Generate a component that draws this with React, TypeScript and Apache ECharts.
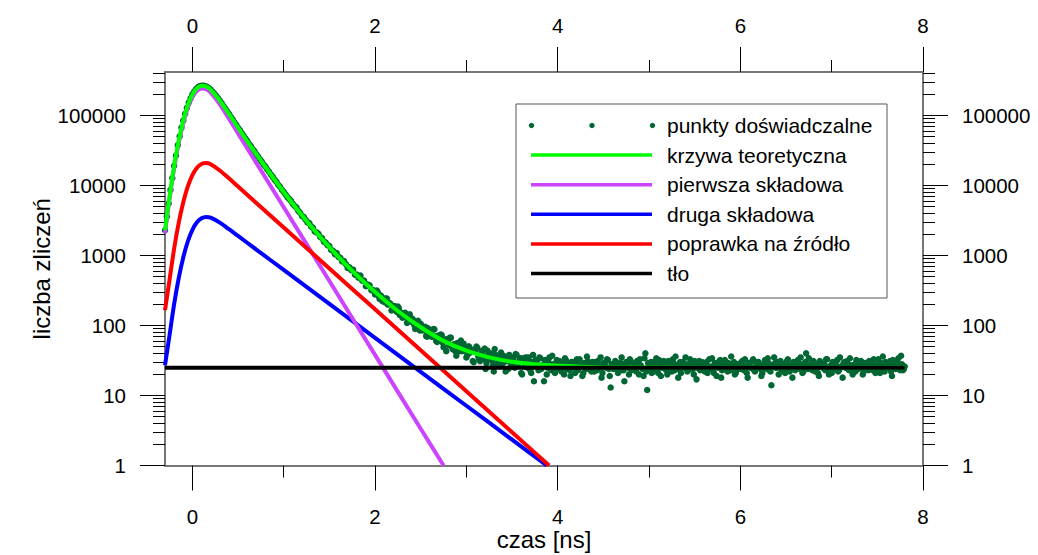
import React, { useEffect, useRef } from "react";
import * as echarts from "echarts";

const FONT = '"Liberation Sans", Arial, sans-serif';

// ---- measured histogram, channels at timeStart + i*timeStep ----
const timeStart = -0.3;
const timeStep = 0.02;
const measuredCounts = [
  // -0.30 .. -0.02
  2290, 3610, 5540, 8650, 12810, 19150, 26800, 37700, 50450, 67100, 84800, 106000, 128500, 152800, 175800,
  // 0.00 .. 0.98
  199900, 219800, 238700, 252000, 262300, 266200, 266500, 261900, 257400, 246800,
  235400, 219900, 206000, 190600, 177400, 163300, 150400, 136700, 125900, 114500,
  105500, 95900, 88200, 80100, 73800, 66850, 61700, 56000, 51700, 47000,
  43450, 39450, 36450, 33150, 30650, 27780, 25820, 23590, 21920, 19890,
  18610, 16900, 15710, 14310, 13290, 12120, 11280, 10230, 9580, 8690,
  // 1.00 .. 3.98
  8110, 7503, 6820, 6434, 6025, 5466, 5086, 4833, 4331, 4086,
  3684, 3537, 3246, 2972, 2910, 2605, 2480, 2204, 2139, 2044,
  1838, 1768, 1576, 1526, 1402, 1368, 1202, 1170, 1047, 1084,
  950, 925, 823, 834, 753, 665, 678, 617, 627, 531,
  533, 482, 517, 437, 437, 364, 384, 375, 320, 320,
  278, 316, 263, 269, 223, 239, 242, 199, 209, 164,
  187, 187, 156, 177, 149, 129, 148, 134, 116, 145,
  113, 118, 89, 112, 96, 106, 85, 92, 71, 91,
  81, 69, 89, 70, 58, 72, 74, 57, 62, 43,
  62, 67, 51, 54, 43, 56, 43, 61, 44, 48,
  35, 50, 41, 45, 30, 43, 48, 33, 38, 33,
  47, 29, 37, 40, 32, 22, 38, 34, 27, 41,
  29, 36, 31, 24, 36, 32, 26, 39, 28, 32,
  21, 34, 26, 30, 35, 23, 30, 16, 32, 27,
  35, 24, 27, 32, 20, 30, 25, 37, 23, 28,
  // 4.00 .. 7.80
  26, 31, 22, 28, 34, 24, 27, 19, 30, 25,
  29, 23, 33, 26, 21, 28, 36, 24, 27, 30,
  22, 26, 31, 25, 18, 29, 27, 33, 24, 13,
  28, 25, 30, 21, 27, 35, 23, 26, 29, 20,
  31, 24, 27, 22, 29, 33, 25, 19, 40, 12,
  26, 30, 23, 27, 34, 21, 28, 25, 31, 24,
  20, 29, 26, 33, 23, 27, 18, 30, 25, 28,
  35, 22, 26, 29, 24, 31, 17, 27, 23, 30,
  25, 28, 21, 33, 26, 24, 29, 19, 27, 32,
  23, 26, 30, 22, 28, 36, 25, 20, 27, 24,
  29, 31, 23, 26, 18, 28, 25, 33, 22, 27,
  30, 24, 21, 28, 26, 34, 23, 14, 27, 29,
  25, 20, 31, 27, 24, 28, 33, 22, 26, 30,
  23, 29, 25, 35, 21, 27, 40, 24, 28, 26,
  31, 22, 27, 19, 30, 25, 28, 33, 24, 26,
  21, 29, 27, 32, 23, 26, 18, 30, 25, 28,
  34, 24, 27, 22, 29, 26, 31, 20, 28, 25,
  23, 30, 26, 33, 21, 27, 24, 29, 36, 22,
  28, 25, 31, 19, 27, 24, 30, 26, 37, 23,
  26,
];

// ---- in-between channels, at midStart + i*timeStep ----
const midStart = 2.01;
const measuredCountsMid = [
  // 2.01 .. 2.49
  285, 298, 240, 262, 242, 214, 243, 203, 203, 169, 190, 161, 186, 142, 152, 141, 152, 109, 131, 114, 125, 101, 107, 117, 85,
  // 2.51 .. 2.99
  100, 87, 96, 69, 84, 77, 69, 88, 60, 71, 63, 73, 49, 63, 64, 52, 67, 46, 53, 37, 56, 50, 43, 55, 44,
  // 3.01 .. 3.49
  38, 50, 44, 31, 44, 50, 36, 31, 43, 37, 24, 44, 33, 39, 27, 46, 30, 35, 27, 38, 32, 22, 36, 38, 28,
  // 3.51 .. 3.99
  33, 25, 38, 28, 34, 20, 30, 35, 25, 31, 21, 38, 27, 31, 23, 34, 27, 16, 32, 25, 35, 23, 28, 21, 32,
  // 4.01 .. 7.79
  24, 29, 27, 20, 32, 26, 23, 30, 28, 21,
  33, 25, 27, 19, 29, 24, 31, 26, 22, 28,
  30, 23, 26, 35, 21, 27, 25, 32, 19, 28,
  24, 31, 26, 22, 29, 27, 16, 30, 25, 33,
  23, 28, 26, 31, 20, 27, 24, 34, 22, 29,
  25, 21, 30, 27, 24, 32, 19, 28, 26, 23,
  31, 26, 22, 29, 36, 24, 27, 21, 30, 25,
  28, 23, 33, 26, 20, 29, 25, 31, 24, 27,
  22, 30, 26, 24, 34, 21, 28, 25, 31, 18,
  27, 32, 24, 29, 23, 26, 30, 21, 28, 25,
  24, 27, 33, 21, 29, 25, 31, 23, 26, 30,
  28, 19, 26, 32, 24, 29, 22, 27, 35, 25,
  30, 26, 23, 28, 21, 31, 25, 27, 18, 29,
  26, 32, 24, 28, 22, 30, 25, 34, 27, 23,
  29, 25, 21, 31, 26, 28, 23, 33, 20, 27,
  30, 24, 27, 22, 35, 26, 29, 25, 31, 23,
  27, 20, 28, 32, 24, 26, 30, 22, 29, 25,
  31, 26, 23, 28, 25, 33, 21, 27, 24, 30,
  26, 29, 22, 32, 25, 27, 34, 23, 28, 24,
];

// ---- fitted curve (krzywa teoretyczna) ----
const fitTime = [-0.3, -0.25, -0.2, -0.15, -0.1, -0.05, 0, 0.05, 0.1, 0.15, 0.2, 0.3, 0.4, 0.5, 0.7, 1.0, 1.25, 1.5, 1.75, 2.0, 2.25, 2.5, 2.75, 3.0, 3.25, 3.5, 3.75, 4.0, 4.5, 5.0, 6.0, 7.0, 7.8];
const fitTotal = [2297, 6970, 19017, 43732, 85057, 140606, 199638, 246134, 266951, 261101, 234872, 163561, 105262, 67177, 27917, 8057, 3116, 1313, 603, 300, 161, 94.4, 60.3, 43.8, 35.0, 30.3, 27.9, 26.6, 25.2, 25.05, 25, 25, 25];

// ---- first component (pierwsza składowa) ----
const firstTime = [-0.3, -0.25, -0.2, -0.15, -0.1, -0.05, 0, 0.05, 0.1, 0.15, 0.2, 0.3, 0.4, 0.5, 0.7, 1.0, 1.5, 2.0, 2.5, 2.75];
const firstValues = [2080, 6420, 17540, 40320, 78340, 129300, 183200, 225200, 243200, 236600, 211300, 144200, 90210, 55590, 21040, 4898, 431.5, 38.0, 3.35, 1];

// ---- second component (druga składowa) ----
const secondTime = [-0.3, -0.25, -0.2, -0.15, -0.1, -0.05, 0, 0.05, 0.1, 0.15, 0.2, 0.3, 0.4, 0.5, 0.7, 1.0, 1.5, 2.0, 2.5, 3.0, 3.5, 3.88];
const secondValues = [27, 73, 202, 473, 938, 1587, 2323, 2979, 3406, 3556, 3467, 2946, 2377, 1901, 1216, 622, 204, 66.7, 21.8, 7.14, 2.34, 1];

// ---- source correction (poprawka na źródło) ----
const sourceTime = [-0.3, -0.25, -0.2, -0.15, -0.1, -0.05, 0, 0.05, 0.1, 0.15, 0.2, 0.3, 0.4, 0.5, 0.7, 1.0, 1.5, 2.0, 2.5, 3.0, 3.5, 3.906];
const sourceValues = [165, 452, 1250, 2914, 5754, 9694, 14090, 17930, 20320, 20920, 20080, 16390, 12650, 9661, 5636, 2512, 653, 170, 44.2, 11.5, 2.99, 1];

// ---- background (tło) ----
const bgTime = [-0.3, 7.8];
const bgValues = [25, 25];

// ---- axes ----
const xMajorTicks = [0, 2, 4, 6, 8];
const xMinorTicks = [1, 3, 5, 7];
const yMajorTicks = [1, 10, 100, 1000, 10000, 100000];
const yMinorTicks = [
  2, 3, 4, 5, 6, 7, 8, 9,
  20, 30, 40, 50, 60, 70, 80, 90,
  200, 300, 400, 500, 600, 700, 800, 900,
  2000, 3000, 4000, 5000, 6000, 7000, 8000, 9000,
  20000, 30000, 40000, 50000, 60000, 70000, 80000, 90000,
  200000, 300000, 400000,
];

const seriesNames = [
  "punkty doświadczalne",
  "krzywa teoretyczna",
  "pierwsza składowa",
  "druga składowa",
  "poprawka na źródło",
  "tło",
];
const seriesColors = ["#006633", "#00ff00", "#cc44ff", "#0000ff", "#ff0000", "#000000"];

const X_MIN = -0.3;
const X_MAX = 8;
const Y_MIN = 1;
const Y_MAX = 418000;

const pairs = (xs: number[], ys: number[]) => xs.map((x, i) => [x, ys[i]]);
const channels = (start: number, counts: number[]) =>
  counts.map((c, i) => [Math.round((start + i * timeStep) * 100) / 100, c]);

function buildOption() {
  const measured = channels(timeStart, measuredCounts).concat(
    channels(midStart, measuredCountsMid)
  );

  const axisLineStyle = { color: "#6e6e6e", width: 1.5 };
  const tickLine = { color: "#000", width: 1 };
  const labelStyle = { color: "#000", fontSize: 20.5, fontFamily: FONT };

  const makeX = (position: "top" | "bottom", major: boolean, withName: boolean) => ({
    type: "value",
    position,
    min: X_MIN,
    max: X_MAX,
    axisLine: { show: true, onZero: false, lineStyle: axisLineStyle },
    axisTick: {
      show: true,
      inside: false,
      length: major ? 25 : 12,
      customValues: major ? xMajorTicks : xMinorTicks,
      lineStyle: tickLine,
    },
    axisLabel: {
      show: major,
      customValues: xMajorTicks,
      margin: position === "top" ? 36 : 40,
      formatter: (v: number) => String(Math.round(v)),
      ...labelStyle,
    },
    splitLine: { show: false },
    ...(withName
      ? {
          name: "czas [ns]",
          nameLocation: "middle",
          nameGap: 62,
          nameMoveOverlap: false,
          nameTextStyle: { color: "#000", fontSize: 24, fontFamily: FONT },
        }
      : {}),
  });

  const makeY = (position: "left" | "right", major: boolean, withName: boolean) => ({
    type: "log",
    logBase: 10,
    position,
    min: Y_MIN,
    max: Y_MAX,
    axisLine: { show: true, onZero: false, lineStyle: axisLineStyle },
    axisTick: {
      show: true,
      inside: false,
      length: major ? 25 : 12,
      customValues: major ? yMajorTicks : yMinorTicks,
      lineStyle: tickLine,
    },
    axisLabel: {
      show: major,
      customValues: yMajorTicks,
      margin: 39,
      formatter: (v: number) => String(Math.round(v)),
      ...labelStyle,
    },
    splitLine: { show: false },
    minorTick: { show: false },
    ...(withName
      ? {
          name: "liczba zliczeń",
          nameLocation: "middle",
          nameGap: 112,
          nameRotate: 90,
          nameMoveOverlap: false,
          nameTextStyle: { color: "#000", fontSize: 24, fontFamily: FONT },
        }
      : {}),
  });

  const lineSeries = (idx: number, data: number[][], smooth: number | boolean) => ({
    type: "line",
    name: seriesNames[idx],
    xAxisIndex: 0,
    yAxisIndex: 0,
    data,
    smooth,
    showSymbol: false,
    symbol: "none",
    lineStyle: { color: seriesColors[idx], width: 4, opacity: 1 },
    itemStyle: { color: seriesColors[idx] },
    clip: true,
  });

  // legend drawn as a framed graphic box
  const legendX = 516;
  const legendY = 104;
  const rowY0 = 125.5;
  const rowGap = 29.6;
  const legendEls: any[] = [
    {
      type: "rect",
      shape: { x: legendX, y: legendY, width: 371, height: 194 },
      style: { fill: "#fff", stroke: "#555", lineWidth: 1 },
      z: 10,
    },
  ];
  seriesNames.forEach((name, i) => {
    const y = rowY0 + i * rowGap;
    if (i === 0) {
      [531.5, 592, 652.5].forEach((cx) =>
        legendEls.push({
          type: "circle",
          shape: { cx, cy: y, r: 2.7 },
          style: { fill: seriesColors[0] },
          z: 11,
        })
      );
    } else {
      legendEls.push({
        type: "line",
        shape: { x1: 531, y1: y, x2: 652, y2: y },
        style: { stroke: seriesColors[i], lineWidth: 3.5 },
        z: 11,
      });
    }
    legendEls.push({
      type: "text",
      x: 667,
      y,
      style: {
        text: name,
        fill: "#000",
        fontSize: 21,
        fontFamily: FONT,
        verticalAlign: "middle",
        align: "left",
      },
      z: 11,
    });
  });

  return {
    animation: false,
    backgroundColor: "#ffffff",
    grid: {
      left: 165,
      right: 115,
      top: 72,
      bottom: 89.5,
      containLabel: false,
      outerBoundsMode: "none",
    },
    xAxis: [
      makeX("bottom", true, true),
      makeX("bottom", false, false),
      makeX("top", true, false),
      makeX("top", false, false),
    ],
    yAxis: [
      makeY("left", true, true),
      makeY("left", false, false),
      makeY("right", true, false),
      makeY("right", false, false),
    ],
    series: [
      {
        type: "scatter",
        name: seriesNames[0],
        xAxisIndex: 0,
        yAxisIndex: 0,
        data: measured,
        symbol: "circle",
        symbolSize: 6.5,
        itemStyle: { color: seriesColors[0], opacity: 1 },
        emphasis: { disabled: true },
        large: false,
        clip: true,
      },
      lineSeries(3, pairs(secondTime, secondValues), 0.3),
      lineSeries(2, pairs(firstTime, firstValues), 0.3),
      lineSeries(4, pairs(sourceTime, sourceValues), 0.3),
      lineSeries(1, pairs(fitTime, fitTotal), 0.3),
      lineSeries(5, pairs(bgTime, bgValues), false),
    ],
    graphic: legendEls,
  };
}

export default function App() {
  const ref = useRef<HTMLDivElement>(null);
  useEffect(() => {
    if (!ref.current) return;
    const chart = echarts.init(ref.current, null, { renderer: "svg" });
    chart.setOption(buildOption() as any);
    return () => chart.dispose();
  }, []);
  return (
    <div
      ref={ref}
      style={{
        position: "absolute",
        left: 0,
        top: 0,
        width: 1038,
        height: 555,
        background: "#fff",
      }}
    />
  );
}
